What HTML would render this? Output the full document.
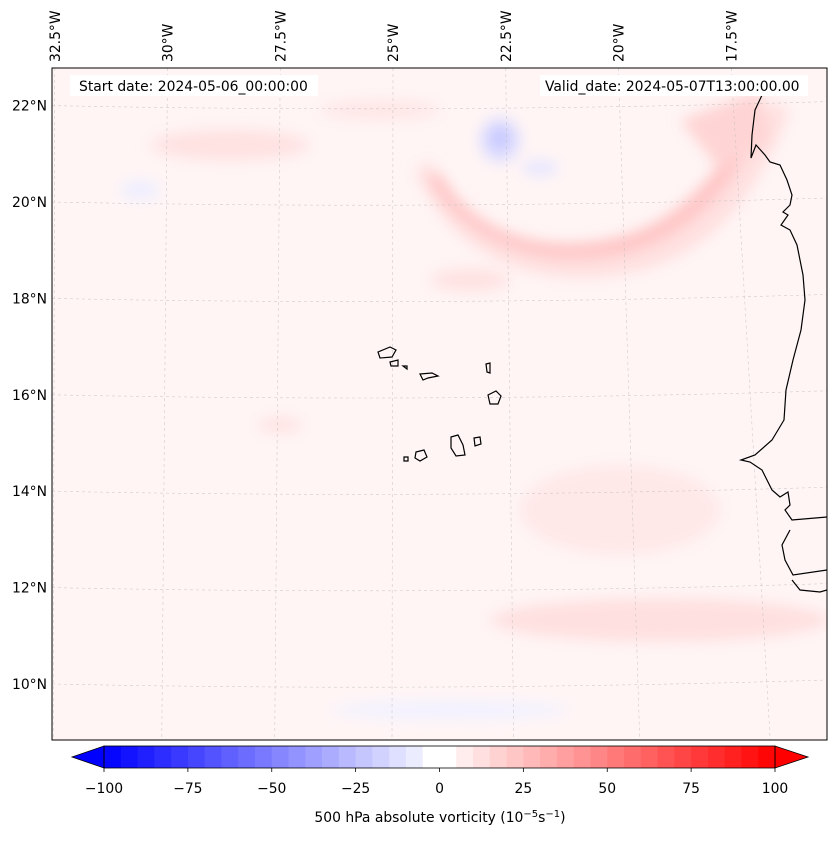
<!DOCTYPE html>
<html><head><meta charset="utf-8"><style>
body{margin:0;background:#fff;font-family:"Liberation Sans","DejaVu Sans",sans-serif;}
svg text{font-family:"DejaVu Sans","Liberation Sans",sans-serif;font-size:13.9px;fill:#000;}
</style></head><body>
<svg id="fig" width="837" height="839" viewBox="0 0 837 839">
<defs>
<filter id="blur" x="-20%" y="-20%" width="140%" height="140%"><feGaussianBlur stdDeviation="7"/></filter>
<clipPath id="mapclip"><rect x="52" y="68" width="775" height="672"/></clipPath>
</defs>
<g id="map">
<rect x="52" y="68" width="775" height="672" fill="#fff5f5"/>
<g clip-path="url(#mapclip)" filter="url(#blur)">
<path d="M430,160 C465,250 560,275 650,240 C710,215 740,160 770,100 L790,110 C760,190 720,245 650,268 C560,295 455,270 415,170 Z" fill="#ffe0e0"/>
<path d="M440,172 C475,240 560,258 635,232 C685,213 718,172 745,125 L758,132 C728,190 695,230 635,250 C560,272 468,252 428,178 Z" fill="#ffc4c4"/>
<path d="M680,120 L760,90 L770,140 L720,170 Z" fill="#ffd4d4"/>
<ellipse cx="500" cy="140" rx="20" ry="22" fill="#dcdcff"/>
<ellipse cx="500" cy="138" rx="9" ry="10" fill="#c4c4ff"/>
<ellipse cx="540" cy="168" rx="18" ry="8" fill="#e6e6ff"/>
<ellipse cx="230" cy="145" rx="80" ry="16" fill="#ffe2e2"/>
<ellipse cx="380" cy="110" rx="60" ry="10" fill="#ffe6e6"/>
<ellipse cx="470" cy="280" rx="40" ry="12" fill="#ffe2e2"/>
<ellipse cx="660" cy="620" rx="170" ry="22" fill="#ffe0e0"/>
<ellipse cx="620" cy="510" rx="100" ry="45" fill="#ffe8e8"/>
<ellipse cx="280" cy="425" rx="22" ry="8" fill="#ffe2e2"/>
<ellipse cx="450" cy="710" rx="120" ry="10" fill="#f2f2ff"/>
<ellipse cx="140" cy="190" rx="20" ry="10" fill="#eeeeff"/>
</g>
<g id="grid" clip-path="url(#mapclip)" stroke="#bbb" stroke-width="0.6" stroke-dasharray="3,3" fill="none" opacity="0.7"></g>
<path clip-path="url(#mapclip)" fill="none" stroke="#000" stroke-width="1.2"
d="M763,93 L755,110 L752,135 L751,158 L756,145 L765,155 L770,162 L780,165 L787,180 L792,195 L790,205 L783,212 L788,215 L781,225 L790,230 L797,245 L803,275 L805,300 L801,330 L793,360 L786,390 L784,420 L772,440 L755,455 L741,460 L750,462 L762,470 L772,490 L780,497 L788,492 L790,505 L785,510 L792,520 L827,517 M790,530 L782,545 L785,560 L793,575 L827,570 M792,580 L800,590 L820,592 L827,590"/>
<g fill="none" stroke="#000" stroke-width="1.2">
<path d="M378,352 L390,347 L396,350 L392,357 L380,358 Z"/>
<path d="M390,362 L398,360 L398,366 L391,366 Z"/>
<path d="M403,366 L407,366 L407,369 Z"/>
<path d="M420,374 L432,373 L438,376 L428,378 L423,380 Z"/>
<path d="M486,364 L490,363 L490,373 L487,372 Z"/>
<path d="M488,395 L496,391 L501,396 L498,404 L490,404 Z"/>
<path d="M451,437 L458,435 L463,445 L465,455 L456,456 L451,448 Z"/>
<path d="M474,438 L480,437 L481,444 L475,446 Z"/>
<path d="M416,452 L424,450 L427,457 L420,461 L415,458 Z"/>
<path d="M404,457 L408,457 L408,461 L404,461 Z"/>
</g>
<rect x="52" y="68" width="775" height="672" fill="none" stroke="#000" stroke-width="1"/>
<rect x="70" y="75" width="248" height="21" fill="#fff"/>
<text x="79" y="91">Start date: 2024-05-06_00:00:00</text>
<rect x="540" y="75" width="268" height="21" fill="#fff"/>
<text x="545" y="91">Valid_date: 2024-05-07T13:00:00.00</text>
<g id="latlabels"></g>
<g id="lonlabels"></g>
</g>
<g id="cbar"></g>
<text x="440" y="822" text-anchor="middle">500 hPa absolute vorticity (10<tspan dy="-5" font-size="10">−5</tspan><tspan dy="5">s</tspan><tspan dy="-5" font-size="10">−1</tspan><tspan dy="5">)</tspan></text>
</svg>
<script>
const latValues=[22,20,18,16,14,12,10];
const lonValues=[32.5,30,27.5,25,22.5,20,17.5];
const cbarLevels=[-100,-95,-90,-85,-80,-75,-70,-65,-60,-55,-50,-45,-40,-35,-30,-25,-20,-15,-10,-5,0,5,10,15,20,25,30,35,40,45,50,55,60,65,70,75,80,85,90,95,100];
const cbarTicks=[-100,-75,-50,-25,0,25,50,75,100];
const NS='http://www.w3.org/2000/svg';
function latY(lat){return 202+(20-lat)*48.2;}
function lonTopX(lon){return 393+(25-lon)*45.1;}
function lonBotX(lon){return 392+(25-lon)*47.8+(25-lon)*(25-lon)*0.35;}
function cx(v){return 104+(v+100)*3.355;}
function mk(tag,attrs,parent){const e=document.createElementNS(NS,tag);for(const k in attrs)e.setAttribute(k,attrs[k]);parent.appendChild(e);return e;}
const grid=document.getElementById('grid');
latValues.forEach(lat=>{const y=latY(lat);
 const p=mk('path',{d:`M52,${y} Q440,${y+8} 827,${y-4}`},grid);
 
 
 const t=mk('text',{x:47,y:y+5,'text-anchor':'end'},document.getElementById('latlabels'));
 t.textContent=lat+'°N';
 
 
});
lonValues.forEach(lon=>{const x1=lonTopX(lon),x2=lonBotX(lon);
 const l=mk('line',{x1:x1,y1:68,x2:x2,y2:740},grid);
 
 
 const t=mk('text',{x:0,y:0,transform:`translate(${x1+5},62) rotate(-90)`},document.getElementById('lonlabels'));
 t.textContent=lon+'°W';
 
 
});
function bwr(v){const t=(v+100)/200;let r,g,b;
 if(t<0.5){const s=t/0.5;r=Math.round(255*s);g=r;b=255;}else{const s=(t-0.5)/0.5;r=255;g=Math.round(255*(1-s));b=g;}
 return `rgb(${r},${g},${b})`;}
const cb=document.getElementById('cbar');
for(let i=0;i<cbarLevels.length-1;i++){const a=cbarLevels[i],b=cbarLevels[i+1];const mid=(a+b)/2;
 let c=bwr(mid);if(Math.abs(mid)<5)c='#ffffff';
 const r=mk('rect',{x:cx(a),y:746,width:cx(b)-cx(a)+0.5,height:22,fill:c},cb);
 
 
}
const lt=mk('polygon',{points:`${cx(-100)},746 ${cx(-100)},768 72,757`,fill:bwr(-100),stroke:'#000','stroke-width':0.8},cb);


const rt=mk('polygon',{points:`${cx(100)},746 ${cx(100)},768 808,757`,fill:bwr(100),stroke:'#000','stroke-width':0.8},cb);


const fr=mk('rect',{x:cx(-100),y:746,width:cx(100)-cx(-100),height:22,fill:'none',stroke:'#000','stroke-width':0.8},cb);


cbarTicks.forEach(v=>{
 const l=mk('line',{x1:cx(v),y1:768,x2:cx(v),y2:772,stroke:'#000','stroke-width':0.8},cb);
 
 
 const t=mk('text',{x:cx(v),y:793,'text-anchor':'middle'},cb);
 t.textContent=v<0?'−'+Math.abs(v):String(v);
 
 
});
</script>
</body></html>
